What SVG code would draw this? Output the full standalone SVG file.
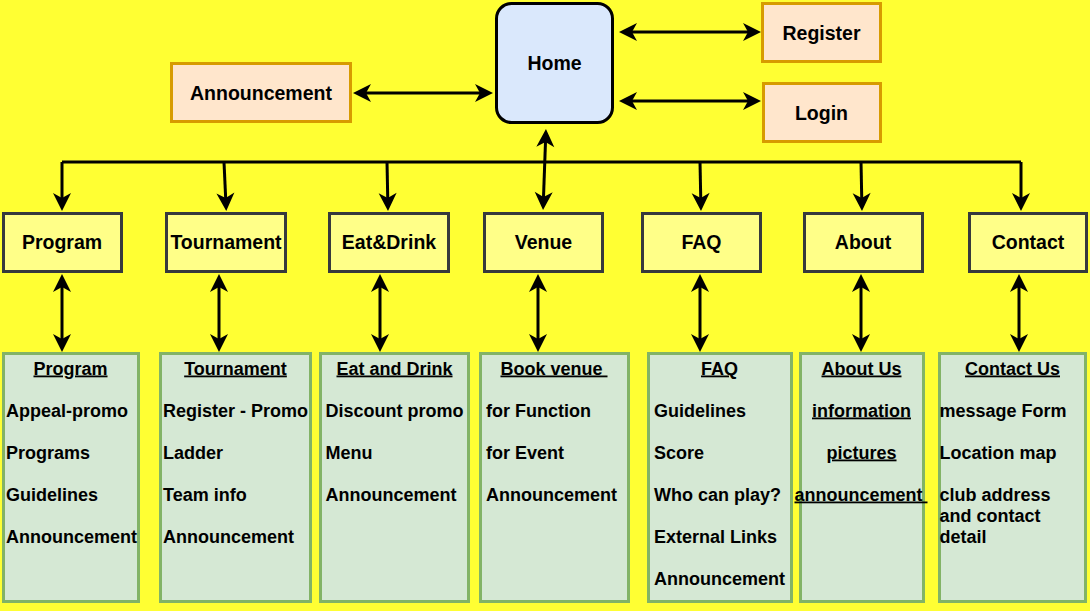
<svg xmlns="http://www.w3.org/2000/svg" width="1090" height="611" viewBox="0 0 1090 611">
<style>
text{font-family:"Liberation Sans",Arial,sans-serif;font-weight:bold;fill:#000}
.t{font-size:19.5px;text-anchor:middle}
.b{font-size:18px}
.c{text-anchor:middle}
.u{text-decoration:underline}
.top{fill:#ffe6cc;stroke:#d79b00;stroke-width:3}
.mid{fill:#ffff88;stroke:#36393d;stroke-width:3}
.bot{fill:#d5e8d4;stroke:#82b366;stroke-width:3}
.ln{fill:none;stroke:#000;stroke-width:3}
</style>
<defs>
<marker id="ah" viewBox="-19 -10 19 20" refX="-10" refY="0" markerWidth="19" markerHeight="20" markerUnits="userSpaceOnUse" orient="auto-start-reverse">
<path d="M0,0 L-18,-9 L-13,0 L-18,9 Z" fill="#000"/>
</marker>
</defs>
<rect width="1090" height="611" fill="#ffff33"/>

<g id="connectors">
<path class="ln" d="M629,32 L751,32" marker-start="url(#ah)" marker-end="url(#ah)"/>
<path class="ln" d="M629,101 L751,101" marker-start="url(#ah)" marker-end="url(#ah)"/>
<path class="ln" d="M363,93 L483,93" marker-start="url(#ah)" marker-end="url(#ah)"/>
<path class="ln" d="M545.6,139 L543.4,200" marker-start="url(#ah)" marker-end="url(#ah)"/>
<path class="ln" d="M62,162 L1021,162"/>
<path class="ln" d="M62,162 L62,201" marker-end="url(#ah)"/>
<path class="ln" d="M224,162 L225.8,201" marker-end="url(#ah)"/>
<path class="ln" d="M387,162 L387.8,201" marker-end="url(#ah)"/>
<path class="ln" d="M700,162 L700.8,201" marker-end="url(#ah)"/>
<path class="ln" d="M861,162 L861.8,201" marker-end="url(#ah)"/>
<path class="ln" d="M1021,162 L1021,201" marker-end="url(#ah)"/>
<path class="ln" d="M62,284 L62,342" marker-start="url(#ah)" marker-end="url(#ah)"/>
<path class="ln" d="M219,284 L219,342" marker-start="url(#ah)" marker-end="url(#ah)"/>
<path class="ln" d="M380,284 L380,342" marker-start="url(#ah)" marker-end="url(#ah)"/>
<path class="ln" d="M538,284 L538,342" marker-start="url(#ah)" marker-end="url(#ah)"/>
<path class="ln" d="M700,284 L700,342" marker-start="url(#ah)" marker-end="url(#ah)"/>
<path class="ln" d="M861,284 L861,342" marker-start="url(#ah)" marker-end="url(#ah)"/>
<path class="ln" d="M1019,284 L1019,342" marker-start="url(#ah)" marker-end="url(#ah)"/>
</g>

<g id="home">
<rect x="496.5" y="3.5" width="116" height="119" rx="15" fill="#dae8fc" stroke="#000" stroke-width="3"/>
<text class="t" x="554.5" y="69.5">Home</text>
</g>
<g id="register">
<rect class="top" x="762.5" y="3.5" width="118" height="58"/>
<text class="t" x="821.5" y="39.5">Register</text>
</g>
<g id="login">
<rect class="top" x="763.5" y="83.5" width="117" height="58"/>
<text class="t" x="821.5" y="119.5">Login</text>
</g>
<g id="announcement">
<rect class="top" x="171.5" y="63.5" width="179" height="58"/>
<text class="t" x="261" y="99.5">Announcement</text>
</g>

<g id="program">
<rect class="mid" x="3.5" y="213.5" width="118" height="58"/>
<text class="t" x="62" y="249">Program</text>
</g>
<g id="tournament">
<rect class="mid" x="166.5" y="213.5" width="119" height="58"/>
<text class="t" x="226" y="249">Tournament</text>
</g>
<g id="eatdrink">
<rect class="mid" x="329.5" y="213.5" width="119" height="58"/>
<text class="t" x="389" y="249">Eat&amp;Drink</text>
</g>
<g id="venue">
<rect class="mid" x="484.5" y="213.5" width="118" height="58"/>
<text class="t" x="543.5" y="249">Venue</text>
</g>
<g id="faq">
<rect class="mid" x="642.5" y="213.5" width="118" height="58"/>
<text class="t" x="701.5" y="249">FAQ</text>
</g>
<g id="about">
<rect class="mid" x="804.5" y="213.5" width="118" height="58"/>
<text class="t" x="863" y="249">About</text>
</g>
<g id="contact">
<rect class="mid" x="969.5" y="213.5" width="117" height="58"/>
<text class="t" x="1028" y="249">Contact</text>
</g>

<g id="program-page">
<rect class="bot" x="3.5" y="353.5" width="135" height="248"/>
<text class="b c u" x="70.5" y="374.5">Program</text>
<text class="b" x="6" y="416.5">Appeal-promo</text>
<text class="b" x="6" y="458.5">Programs</text>
<text class="b" x="6" y="500.5">Guidelines</text>
<text class="b" x="6" y="542.5">Announcement</text>
</g>
<g id="tournament-page">
<rect class="bot" x="160.5" y="353.5" width="150" height="248"/>
<text class="b c u" x="235.5" y="374.5">Tournament</text>
<text class="b" x="163" y="416.5">Register - Promo</text>
<text class="b" x="163" y="458.5">Ladder</text>
<text class="b" x="163" y="500.5">Team info</text>
<text class="b" x="163" y="542.5">Announcement</text>
</g>
<g id="eatdrink-page">
<rect class="bot" x="320.5" y="353.5" width="148" height="248"/>
<text class="b c u" x="394.5" y="374.5">Eat and Drink</text>
<text class="b" x="325.5" y="416.5">Discount promo</text>
<text class="b" x="325.5" y="458.5">Menu</text>
<text class="b" x="325.5" y="500.5">Announcement</text>
</g>
<g id="venue-page">
<rect class="bot" x="480.5" y="353.5" width="148" height="248"/>
<text class="b c u" x="554" y="374.5">Book venue&#160;</text>
<text class="b" x="486" y="416.5">for Function</text>
<text class="b" x="486" y="458.5">for Event</text>
<text class="b" x="486" y="500.5">Announcement</text>
</g>
<g id="faq-page">
<rect class="bot" x="648.5" y="353.5" width="143" height="248" stroke="#7aa85c"/>
<text class="b c u" x="719.5" y="374.5">FAQ</text>
<text class="b" x="654" y="416.5">Guidelines</text>
<text class="b" x="654" y="458.5">Score</text>
<text class="b" x="654" y="500.5">Who can play?</text>
<text class="b" x="654" y="542.5">External Links</text>
<text class="b" x="654" y="584.5">Announcement</text>
</g>
<g id="about-page">
<rect class="bot" x="800.5" y="353.5" width="123" height="248"/>
<text class="b c u" x="861.5" y="374.5">About Us</text>
<text class="b c u" x="861.5" y="416.5">information</text>
<text class="b c u" x="861.5" y="458.5">pictures</text>
<text class="b c u" x="861" y="500.5">announcement&#160;</text>
</g>
<g id="contact-page">
<rect class="bot" x="939.5" y="353.5" width="146" height="248"/>
<text class="b c u" x="1012.5" y="374.5">Contact Us</text>
<text class="b" x="939.5" y="416.5">message Form</text>
<text class="b" x="939.5" y="458.5">Location map</text>
<text class="b" x="939.5" y="500.5">club address</text>
<text class="b" x="939.5" y="521.5">and contact</text>
<text class="b" x="939.5" y="542.5">detail</text>
</g>
</svg>
